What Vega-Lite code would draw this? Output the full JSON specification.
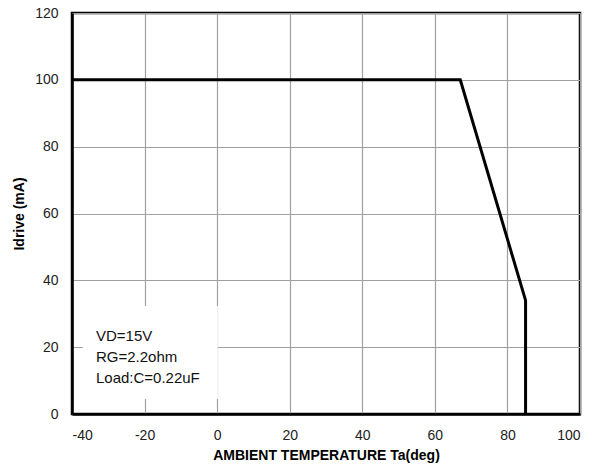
{
  "$schema": "https://vega.github.io/schema/vega-lite/v6.json",
  "width": 508,
  "height": 401,
  "autosize": {"type": "none"},
  "padding": {"left": 72, "top": 13, "right": 12, "bottom": 54},
  "background": "white",
  "config": {
    "font": "Liberation Sans",
    "view": {"stroke": "black", "strokeWidth": 2.5},
    "axis": {
      "labelFont": "Liberation Sans",
      "labelFontSize": 14,
      "labelColor": "#222",
      "titleFont": "Liberation Sans",
      "titleFontSize": 14,
      "titleFontWeight": "bold",
      "titleColor": "#000",
      "gridColor": "#a0a0a0",
      "gridWidth": 1.2,
      "gridOpacity": 1,
      "ticks": false,
      "domainColor": "#000",
      "domainWidth": 2.5
    }
  },
  "datasets": {
    "curve": [
      {"i": 0, "t": -40, "idrive": 100},
      {"i": 1, "t": 67, "idrive": 100},
      {"i": 2, "t": 85, "idrive": 34},
      {"i": 3, "t": 85, "idrive": 0}
    ],
    "box": [
      {"x1": -37, "x2": 0.2, "y1": 4.5, "y2": 32.3}
    ],
    "notes": [
      {"t": -33.4, "idrive": 23.3, "label": "VD=15V"},
      {"t": -33.4, "idrive": 17.0, "label": "RG=2.2ohm"},
      {"t": -33.4, "idrive": 10.8, "label": "Load:C=0.22uF"}
    ]
  },
  "layer": [
    {
      "data": {"name": "box"},
      "mark": {"type": "rect", "fill": "white", "stroke": null},
      "encoding": {
        "x": {"field": "x1", "type": "quantitative", "scale": {"domain": [-40, 100], "nice": false},
          "axis": {"values": [-40, -20, 0, 20, 40, 60, 80, 100], "labelExpr": "datum.value < 0 ? '-' + abs(datum.value) : '' + datum.value", "title": "AMBIENT TEMPERATURE Ta(deg)", "labelPadding": 14, "titlePadding": 6, "grid": true}},
        "x2": {"field": "x2"},
        "y": {"field": "y1", "type": "quantitative", "scale": {"domain": [0, 120], "nice": false},
          "axis": {"values": [0, 20, 40, 60, 80, 100, 120], "title": "Idrive (mA)", "labelPadding": 14, "titlePadding": 8, "grid": true}},
        "y2": {"field": "y2"}
      }
    },
    {
      "data": {"name": "curve"},
      "mark": {"type": "line", "color": "#000", "strokeWidth": 3},
      "encoding": {
        "x": {"field": "t", "type": "quantitative"},
        "y": {"field": "idrive", "type": "quantitative"},
        "order": {"field": "i", "type": "quantitative"}
      }
    },
    {
      "data": {"name": "notes"},
      "mark": {"type": "text", "align": "left", "baseline": "middle", "fontSize": 15, "color": "#111", "font": "Liberation Sans"},
      "encoding": {
        "x": {"field": "t", "type": "quantitative"},
        "y": {"field": "idrive", "type": "quantitative"},
        "text": {"field": "label"}
      }
    }
  ]
}
